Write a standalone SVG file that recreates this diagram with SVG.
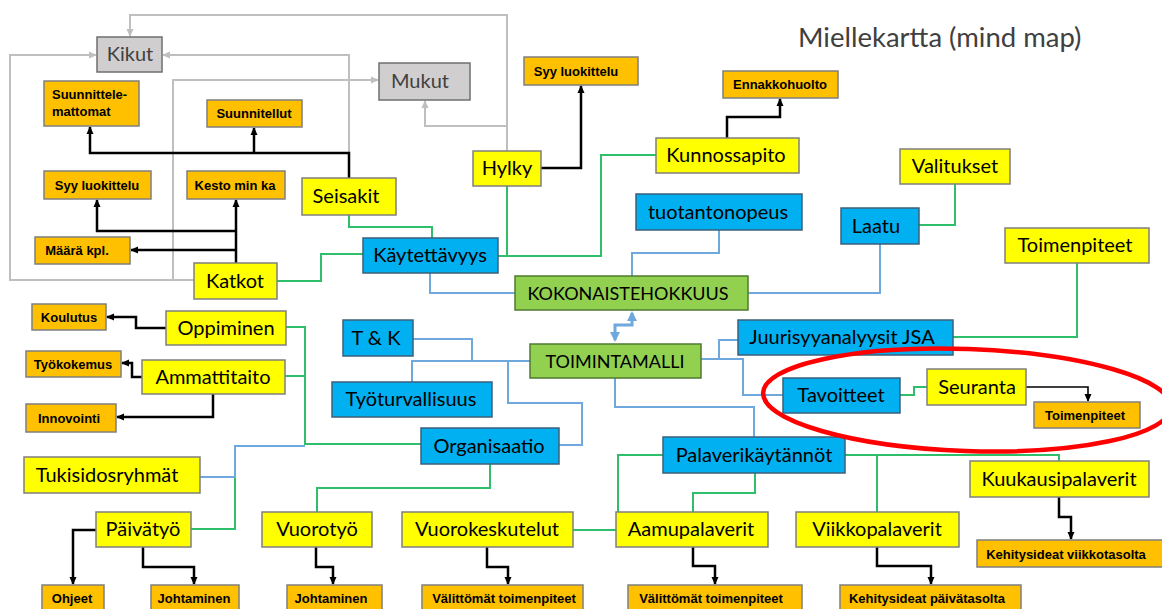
<svg xmlns="http://www.w3.org/2000/svg" width="1162" height="609" viewBox="0 0 1162 609">
<style>
text{font-family:Lato,"Open Sans","Liberation Sans",sans-serif;fill:#000}
.t{font-size:20px;text-anchor:middle}
.s{font-family:"Liberation Sans",Arial,sans-serif;font-size:13px;font-weight:bold;text-anchor:middle}
.y{fill:#ffff00;stroke:#7f7f7f;stroke-width:1.5}
.o{fill:#ffc000;stroke:#7f7f7f;stroke-width:1.5}
.b{fill:#00b0f0;stroke:#3d5f7a;stroke-width:1.5}
.g{fill:#92d050;stroke:#4f7a2e;stroke-width:1.5}
.q{fill:#d0cece;stroke:#6f6f6f;stroke-width:1.5}
.cg{fill:none;stroke:#bfbfbf;stroke-width:2}
.ck{fill:none;stroke:#000;stroke-width:2.5}
.cn{fill:none;stroke:#2fbf6a;stroke-width:2}
.cb{fill:none;stroke:#6fa8dc;stroke-width:2}
</style>
<defs>
<marker id="ak" markerUnits="userSpaceOnUse" markerWidth="8" markerHeight="8" refX="7" refY="4" orient="auto"><path d="M0,0.5 L8,4 L0,7.5 z" fill="#000"/></marker>
<marker id="ag" markerUnits="userSpaceOnUse" markerWidth="8" markerHeight="8" refX="7" refY="4" orient="auto"><path d="M0,0.5 L8,4 L0,7.5 z" fill="#bfbfbf"/></marker>
<marker id="ab" markerUnits="userSpaceOnUse" markerWidth="10" markerHeight="10" refX="8" refY="5" orient="auto-start-reverse"><path d="M0,0 L10,5 L0,10 z" fill="#6fa8dc"/></marker>
</defs>
<rect width="1162" height="609" fill="#fff"/>
<text x="798" y="47" style="font-size:27.5px;fill:#404040">Miellekartta (mind map)</text>

<g id="connectors">
<path class="cg" d="M507,151 V15 H130 V36" marker-end="url(#ag)"/>
<path class="cg" d="M507,126 H425 V101" marker-end="url(#ag)"/>
<path class="cg" d="M194,280 H10 V55 H96" marker-end="url(#ag)"/>
<path class="cg" d="M173,280 V80 H378" marker-end="url(#ag)"/>
<path class="cg" d="M349,178 V55 H163" marker-end="url(#ag)"/>

<path class="ck" d="M349,178 V153 H90 V127" marker-end="url(#ak)"/>
<path class="ck" d="M254,153 V128" marker-end="url(#ak)"/>
<path class="ck" d="M236,263 V200" marker-end="url(#ak)"/>
<path class="ck" d="M236,231 H97 V200" marker-end="url(#ak)"/>
<path class="ck" d="M236,250 H131" marker-end="url(#ak)"/>
<path class="ck" d="M541,168 H581 V86" marker-end="url(#ak)"/>
<path class="ck" d="M727,138 V117 H780 V99" marker-end="url(#ak)"/>
<path class="ck" d="M166,328 H136 V317 H107" marker-end="url(#ak)"/>
<path class="ck" d="M142,377 H132 V363 H122" marker-end="url(#ak)"/>
<path class="ck" d="M213,394 V417 H117" marker-end="url(#ak)"/>
<path class="ck" d="M96,530 H73 V584" marker-end="url(#ak)"/>
<path class="ck" d="M143,547 V567 H194 V584" marker-end="url(#ak)"/>
<path class="ck" d="M316,547 V567 H333 V584" marker-end="url(#ak)"/>
<path class="ck" d="M487,547 V567 H508 V584" marker-end="url(#ak)"/>
<path class="ck" d="M693,547 V566 H715 V584" marker-end="url(#ak)"/>
<path class="ck" d="M877,547 V566 H931 V584" marker-end="url(#ak)"/>
<path class="ck" d="M1059,497 V517 H1071 V539" marker-end="url(#ak)"/>
<path class="ck" style="stroke-width:1.6" d="M1026,387 H1088 V401" marker-end="url(#ak)"/>

<path class="cn" d="M507,186 V256 H498"/>
<path class="cn" d="M656,155 H601 V256 H507"/>
<path class="cn" d="M349,215 V227 H432 V238"/>
<path class="cn" d="M277,281 H321 V254 H363"/>
<path class="cn" d="M955,184 V225 H919"/>
<path class="cn" d="M1077,263 V337 H953"/>
<path class="cn" d="M900,395 H914 V387 H927"/>
<path class="cn" d="M286,327 H305 V444 H421"/>
<path class="cn" d="M285,376 H305"/>
<path class="cn" d="M191,529 H235 V477"/>
<path class="cn" d="M490,464 V488 H317 V512"/>
<path class="cn" d="M573,530 H616"/>
<path class="cn" d="M663,455 H618 V530"/>
<path class="cn" d="M755,473 V493 H693 V512"/>
<path class="cn" d="M845,455 H1059 V461"/>
<path class="cn" d="M877,455 V512"/>

<path class="cb" d="M430,273 V293 H515"/>
<path class="cb" d="M880,244 V293 H748"/>
<path class="cb" d="M719,230 V253 H632 V276"/>
<path class="cb" style="stroke-width:3" d="M632,313 V325 H615 V340" marker-start="url(#ab)" marker-end="url(#ab)"/>
<path class="cb" d="M413,339 H472 V361 H530"/>
<path class="cb" d="M412,382 V361 H472"/>
<path class="cb" d="M508,361 V403 H582 V445 H559"/>
<path class="cb" d="M200,477 H235 V446 H305"/>
<path class="cb" d="M701,359 H743 V395 H783"/>
<path class="cb" d="M719,359 V340 H738"/>
<path class="cb" d="M615,378 V407 H754 V437"/>
</g>

<g id="kikut"><rect class="q" x="97" y="37" width="65" height="35"/><text class="t" x="130" y="61" style="fill:#404040">Kikut</text></g>
<g id="mukut"><rect class="q" x="379" y="63" width="91" height="37"/><text class="t" x="420" y="88" style="fill:#404040">Mukut</text></g>
<g id="suunnittelemattomat"><rect class="o" x="44" y="81" width="95" height="45"/><text class="s" x="52" y="99" style="text-anchor:start">Suunnittele-</text><text class="s" x="52" y="116" style="text-anchor:start">mattomat</text></g>
<g id="suunnitellut"><rect class="o" x="207" y="100" width="95" height="27"/><text class="s" x="254" y="118">Suunnitellut</text></g>
<g id="syy1"><rect class="o" x="44" y="171" width="107" height="28"/><text class="s" x="97" y="190">Syy luokittelu</text></g>
<g id="kesto"><rect class="o" x="187" y="171" width="98" height="28"/><text class="s" x="235" y="190">Kesto min ka</text></g>
<g id="maara"><rect class="o" x="35" y="237" width="95" height="27"/><text class="s" x="77" y="255">Määrä kpl.</text></g>
<g id="syy2"><rect class="o" x="524" y="57" width="114" height="28"/><text class="s" x="576" y="76">Syy luokittelu</text></g>
<g id="ennakko"><rect class="o" x="723" y="71" width="115" height="27"/><text class="s" x="780" y="89">Ennakkohuolto</text></g>
<g id="hylky"><rect class="y" x="473" y="151" width="68" height="35"/><text class="t" x="507" y="175">Hylky</text></g>
<g id="kunnossapito"><rect class="y" x="656" y="138" width="143" height="35"/><text class="t" x="726" y="162">Kunnossapito</text></g>
<g id="seisakit"><rect class="y" x="302" y="178" width="94" height="37"/><text class="t" x="346" y="203">Seisakit</text></g>
<g id="valitukset"><rect class="y" x="900" y="149" width="110" height="35"/><text class="t" x="955" y="173">Valitukset</text></g>
<g id="katkot"><rect class="y" x="194" y="263" width="83" height="36"/><text class="t" x="235" y="288">Katkot</text></g>
<g id="kaytettavyys"><rect class="b" x="363" y="238" width="135" height="35"/><text class="t" x="430" y="262">Käytettävyys</text></g>
<g id="tuotantonopeus"><rect class="b" x="636" y="194" width="166" height="36"/><text class="t" x="718" y="219">tuotantonopeus</text></g>
<g id="laatu"><rect class="b" x="841" y="208" width="78" height="36"/><text class="t" x="876" y="233">Laatu</text></g>
<g id="kokonaistehokkuus"><rect class="g" x="515" y="276" width="233" height="34"/><text class="t" x="628" y="300" style="font-size:18px">KOKONAISTEHOKKUUS</text></g>
<g id="toimenpiteet1"><rect class="y" x="1005" y="228" width="144" height="35"/><text class="t" x="1075" y="252">Toimenpiteet</text></g>
<g id="koulutus"><rect class="o" x="32" y="304" width="74" height="26"/><text class="s" x="69" y="322">Koulutus</text></g>
<g id="oppiminen"><rect class="y" x="166" y="311" width="120" height="34"/><text class="t" x="226" y="335">Oppiminen</text></g>
<g id="tk"><rect class="b" x="343" y="320" width="70" height="36"/><text class="t" x="376" y="345">T &amp; K</text></g>
<g id="toimintamalli"><rect class="g" x="530" y="344" width="171" height="34"/><text class="t" x="615" y="368" style="font-size:18px">TOIMINTAMALLI</text></g>
<g id="jsa"><rect class="b" x="738" y="320" width="215" height="35"/><text class="t" x="842" y="344">Juurisyyanalyysit JSA</text></g>
<g id="tyokokemus"><rect class="o" x="26" y="351" width="95" height="26"/><text class="s" x="73" y="369">Työkokemus</text></g>
<g id="ammattitaito"><rect class="y" x="142" y="360" width="143" height="34"/><text class="t" x="213" y="384">Ammattitaito</text></g>
<g id="tyoturvallisuus"><rect class="b" x="332" y="382" width="160" height="35"/><text class="t" x="411" y="406">Työturvallisuus</text></g>
<g id="tavoitteet"><rect class="b" x="783" y="378" width="117" height="35"/><text class="t" x="841" y="402">Tavoitteet</text></g>
<g id="seuranta"><rect class="y" x="927" y="369" width="99" height="36"/><text class="t" x="977" y="394">Seuranta</text></g>
<g id="toimenpiteet2"><rect class="o" x="1034" y="402" width="106" height="26"/><text class="s" x="1085" y="420">Toimenpiteet</text></g>
<g id="innovointi"><rect class="o" x="26" y="404" width="90" height="28"/><text class="s" x="69" y="423">Innovointi</text></g>
<g id="organisaatio"><rect class="b" x="421" y="428" width="138" height="36"/><text class="t" x="489" y="453">Organisaatio</text></g>
<g id="palaverikaytannot"><rect class="b" x="663" y="437" width="182" height="36"/><text class="t" x="754" y="462">Palaverikäytännöt</text></g>
<g id="tukisidosryhmat"><rect class="y" x="24" y="457" width="176" height="36"/><text class="t" x="107" y="482">Tukisidosryhmät</text></g>
<g id="kuukausipalaverit"><rect class="y" x="970" y="461" width="179" height="36"/><text class="t" x="1059" y="486">Kuukausipalaverit</text></g>
<g id="paivatyo"><rect class="y" x="96" y="512" width="95" height="35"/><text class="t" x="143" y="536">Päivätyö</text></g>
<g id="vuorotyo"><rect class="y" x="262" y="512" width="110" height="35"/><text class="t" x="317" y="536">Vuorotyö</text></g>
<g id="vuorokeskutelut"><rect class="y" x="402" y="512" width="171" height="35"/><text class="t" x="487" y="536">Vuorokeskutelut</text></g>
<g id="aamupalaverit"><rect class="y" x="616" y="512" width="152" height="35"/><text class="t" x="691" y="536">Aamupalaverit</text></g>
<g id="viikkopalaverit"><rect class="y" x="796" y="512" width="163" height="35"/><text class="t" x="877" y="536">Viikkopalaverit</text></g>
<g id="kehitysviikko"><rect class="o" x="977" y="540" width="186" height="27"/><text class="s" x="1066" y="559">Kehitysideat viikkotasolta</text></g>
<g id="ohjeet"><rect class="o" x="42" y="585" width="62" height="26"/><text class="s" x="72" y="603">Ohjeet</text></g>
<g id="johtaminen1"><rect class="o" x="151" y="585" width="88" height="26"/><text class="s" x="194" y="603">Johtaminen</text></g>
<g id="johtaminen2"><rect class="o" x="287" y="585" width="95" height="26"/><text class="s" x="331" y="603">Johtaminen</text></g>
<g id="valittomat1"><rect class="o" x="422" y="585" width="161" height="26"/><text class="s" x="504" y="603">Välittömät toimenpiteet</text></g>
<g id="valittomat2"><rect class="o" x="628" y="585" width="174" height="26"/><text class="s" x="711" y="603">Välittömät toimenpiteet</text></g>
<g id="kehityspaiva"><rect class="o" x="840" y="585" width="181" height="26"/><text class="s" x="927" y="603">Kehitysideat päivätasolta</text></g>

<ellipse cx="967" cy="400" rx="204" ry="51" transform="rotate(2 967 400)" fill="none" stroke="#ff0000" stroke-width="4.5"/>
</svg>
